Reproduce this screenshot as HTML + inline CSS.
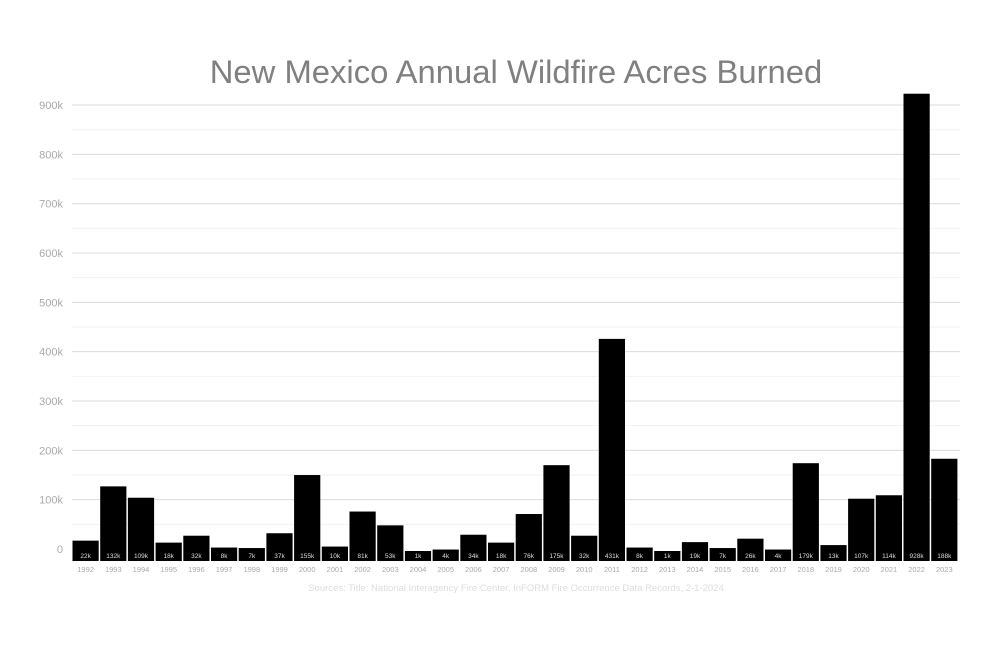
<!DOCTYPE html>
<html><head><meta charset="utf-8"><style>body{margin:0;background:#fff}</style></head>
<body>
<svg width="1000" height="667" xmlns="http://www.w3.org/2000/svg" font-family="Liberation Sans, sans-serif">
<rect width="1000" height="667" fill="#fff"/>
<text x="516" y="83" font-size="32.8" fill="#808080" text-anchor="middle">New Mexico Annual Wildfire Acres Burned</text>
<g id="grid"></g>
<g id="bars"></g>
<text x="516" y="591" font-size="9.5" fill="#ddd" text-anchor="middle">Sources: Title: National Interagency Fire Center, InFORM Fire Occurrence Data Records, 2-1-2024</text>
<script>
var ns="http://www.w3.org/2000/svg";
function el(p,t,a,txt){var e=document.createElementNS(ns,t);for(var k in a)e.setAttribute(k,a[k]);if(txt!=null)e.textContent=txt;p.appendChild(e);return e;}
var g=document.getElementById('grid'),b=document.getElementById('bars');
var y0=549,s=0.4933;
for(var v=0;v<=900;v+=50){var y=y0-v*s;
 if(v>0) el(g,'line',{x1:72,x2:960,y1:y,y2:y,stroke:v%100?'#f2f2f2':'#dcdcdc','stroke-width':1});
 if(v%100==0) el(g,'text',{x:63,y:y+4,'font-size':11,fill:'#aaa','text-anchor':'end'},v?v+'k':'0');}
var vals=[22,132,109,18,32,8,7,37,155,10,81,53,1,4,34,18,76,175,32,431,8,1,19,7,26,4,179,13,107,114,928,188];
var x0=72.5,p=27.7;
vals.forEach(function(v,i){var x=x0+i*p,top=Math.min(551.5-v*s,551);
 el(b,'rect',{x:x,y:top,width:26.2,height:561-top,fill:'#000'});
 el(b,'text',{x:x+13.1,y:558,'font-size':6.5,fill:'#ddd','text-anchor':'middle'},v+'k');
 el(b,'text',{x:x+13.1,y:572,'font-size':7.5,fill:'#aaa','text-anchor':'middle'},1992+i);});
</script>
</svg>
</body></html>
